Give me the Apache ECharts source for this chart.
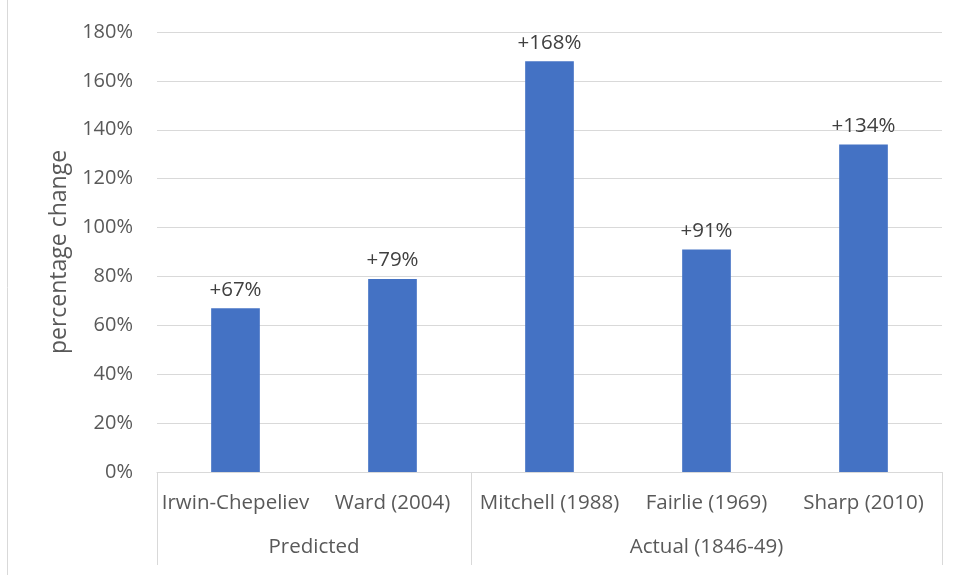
<!DOCTYPE html>
<html>
<head>
<meta charset="utf-8">
<script src="https://cdn.jsdelivr.net/npm/echarts@6/dist/echarts.min.js"></script>
<style>
  html, body { margin: 0; padding: 0; background: #fff; }
  #chart { width: 959px; height: 575px; }
</style>
</head>
<body>
<div id="chart"></div>
<script>
// Study names and their percentage change
const studies = ['Irwin-Chepeliev', 'Ward (2004)', 'Mitchell (1988)', 'Fairlie (1969)', 'Sharp (2010)'];
const changePct = [67, 79, 168, 91, 134];

// Group headings and how many studies each spans
const groups = ['Predicted', 'Actual (1846-49)'];
const groupSizes = [2, 3];

// Y axis ticks
const yMin = 0, yMax = 180, yStep = 20;

// Boundaries and centres of the groups along the category span
const groupEdges = [0];
groupSizes.forEach(n => groupEdges.push(groupEdges[groupEdges.length - 1] + n));
const groupCentres = groupSizes.map((n, i) => groupEdges[i] + n / 2);

const FONT = 'Open Sans';
const LABEL_SIZE = 20.5;
const chart = echarts.init(document.getElementById('chart'));
chart.setOption({
  animation: false,
  textStyle: { fontFamily: FONT },
  grid: { left: 157, right: 17, top: 32, bottom: 103, containLabel: false },
  graphic: [{
    type: 'line',
    shape: { x1: 7.5, y1: 0, x2: 7.5, y2: 575 },
    style: { stroke: '#d9d9d9', lineWidth: 1 }
  }],
  xAxis: [
    {
      type: 'category',
      data: studies,
      position: 'bottom',
      axisLine: { show: true, lineStyle: { color: '#d9d9d9', width: 1 } },
      axisTick: { show: false },
      axisLabel: { color: '#595959', fontSize: LABEL_SIZE, margin: 21, interval: 0 }
    },
    {
      type: 'value',
      min: groupEdges[0],
      max: groupEdges[groupEdges.length - 1],
      position: 'bottom',
      splitLine: { show: false },
      axisLine: { show: false },
      axisTick: {
        show: true,
        length: 93,
        customValues: groupEdges,
        lineStyle: { color: '#d9d9d9', width: 1 }
      },
      axisLabel: {
        color: '#595959',
        fontSize: LABEL_SIZE,
        margin: 65,
        customValues: groupCentres,
        formatter: v => {
          const i = groupCentres.indexOf(v);
          return i >= 0 ? groups[i] : '';
        }
      }
    }
  ],
  yAxis: {
    type: 'value',
    min: yMin,
    max: yMax,
    interval: yStep,
    name: 'percentage change',
    nameLocation: 'middle',
    nameRotate: 90,
    nameGap: 82,
    nameTextStyle: { color: '#595959', fontSize: 23 },
    axisLine: { show: false },
    axisTick: { show: false },
    axisLabel: { color: '#595959', fontSize: 20, margin: 24, formatter: v => v + '%' },
    splitLine: { lineStyle: { color: '#d9d9d9', width: 1 } }
  },
  series: [{
    type: 'bar',
    xAxisIndex: 0,
    data: changePct,
    barWidth: '31%',
    itemStyle: { color: '#4472C4' },
    label: {
      show: true,
      position: 'top',
      distance: 8,
      color: '#404040',
      fontSize: LABEL_SIZE,
      formatter: p => '+' + p.value + '%'
    }
  }]
});
</script>
</body>
</html>
